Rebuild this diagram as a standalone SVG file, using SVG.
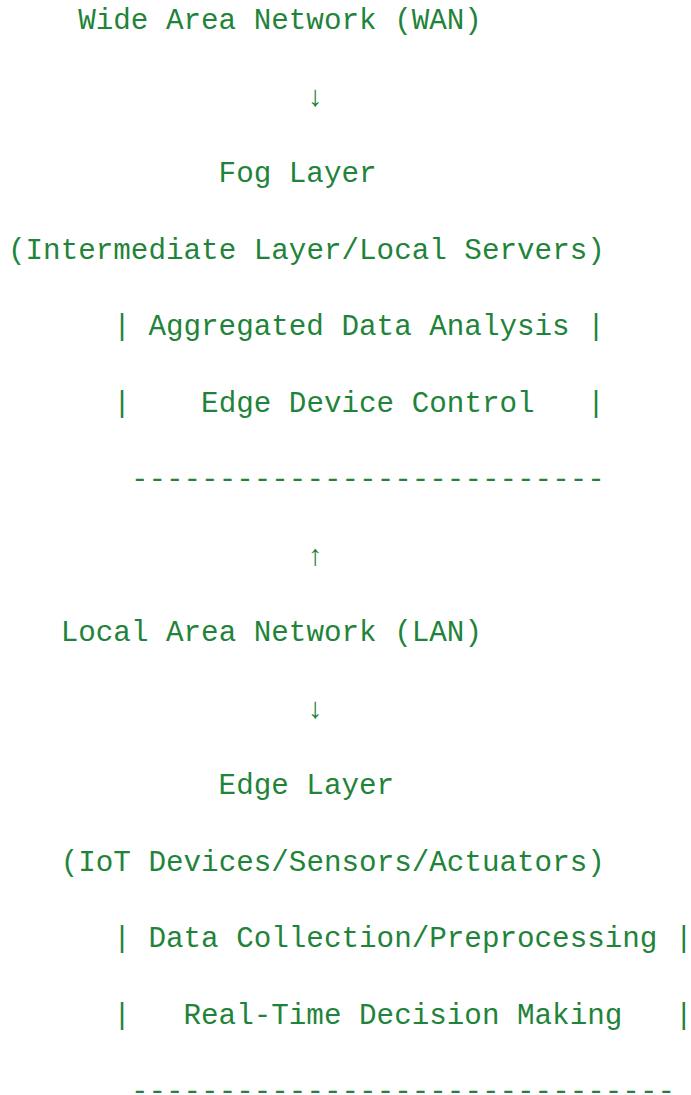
<svg xmlns="http://www.w3.org/2000/svg" width="691" height="1095" viewBox="0 0 691 1095">
<style>
text{font-family:"Liberation Mono","DejaVu Sans Mono",monospace;font-size:29.25px;fill:#1f843a;white-space:pre}
</style>
<rect width="691" height="1095" fill="#ffffff"/>
<g id="wan"><text x="78.2" y="29">Wide Area Network (WAN)</text></g>
<g id="connectors">
<text x="306.4" y="106">↓</text>
<text x="306.4" y="565">↑</text>
<text x="306.4" y="718">↓</text>
</g>
<g id="fog-layer">
<text x="218.6" y="182">Fog Layer</text>
<text x="8" y="259">(Intermediate Layer/Local Servers)</text>
<text x="113.3" y="335">|</text><text x="148.4" y="335">Aggregated Data Analysis</text><text x="587.2" y="335">|</text>
<text x="113.3" y="412">|</text><text x="201.1" y="412">Edge Device Control</text><text x="587.2" y="412">|</text>
<text x="130.9" y="488">---------------------------</text>
</g>
<g id="lan"><text x="60.7" y="641">Local Area Network (LAN)</text></g>
<g id="edge-layer">
<text x="218.6" y="794">Edge Layer</text>
<text x="60.7" y="871">(IoT Devices/Sensors/Actuators)</text>
<text x="113.3" y="947">|</text><text x="148.4" y="947">Data Collection/Preprocessing</text><text x="674.9" y="947">|</text>
<text x="113.3" y="1024">|</text><text x="183.5" y="1024">Real-Time Decision Making</text><text x="674.9" y="1024">|</text>
<text x="130.9" y="1100">-------------------------------</text>
</g>
</svg>
